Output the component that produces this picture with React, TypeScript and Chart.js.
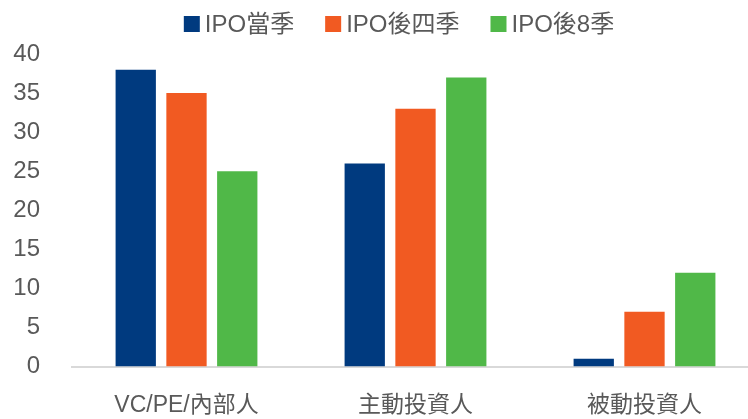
import React, { useEffect, useRef } from "react";
import { Chart, registerables } from "chart.js";

Chart.register(...registerables);

const categories = ["VC/PE/內部人", "主動投資人", "被動投資人"];
const seriesNames = ["IPO當季", "IPO後四季", "IPO後8季"];
const ipoQuarter = [38, 26, 1];
const after4Quarters = [35, 33, 7];
const after8Quarters = [25, 37, 12];
const seriesColors = ["#003A7F", "#F15A22", "#50B848"];
const yTicks = [0, 5, 10, 15, 20, 25, 30, 35, 40];

const FONT = 'Arial, "Liberation Sans", "Noto Sans CJK TC", sans-serif';
const TEXT = "#595959";

const legendPlugin = {
  id: "customLegend",
  afterDraw(chart: any) {
    const opts = chart.options.plugins.customLegend;
    const ctx = chart.ctx;
    ctx.save();
    ctx.font = `${opts.fontSize}px ${FONT}`;
    const items = chart.data.datasets.map((d: any) => ({
      text: d.label,
      color: d.backgroundColor,
      w: ctx.measureText(d.label).width,
    }));
    const total =
      items.reduce((s: number, it: any) => s + opts.box + opts.gap + it.w, 0) +
      opts.itemGap * (items.length - 1);
    let x = opts.centerX - total / 2;
    ctx.textBaseline = "alphabetic";
    ctx.textAlign = "left";
    items.forEach((it: any) => {
      ctx.fillStyle = it.color;
      ctx.fillRect(x, opts.baseline - opts.box, opts.box, opts.box);
      x += opts.box + opts.gap;
      ctx.fillStyle = TEXT;
      ctx.fillText(it.text, x, opts.baseline);
      x += it.w + opts.itemGap;
    });
    ctx.restore();
  },
};

export default function App() {
  const ref = useRef<HTMLCanvasElement>(null);
  useEffect(() => {
    if (!ref.current) return;
    const data = [ipoQuarter, after4Quarters, after8Quarters];
    const chart = new Chart(ref.current, {
      type: "bar",
      data: {
        labels: categories,
        datasets: seriesNames.map((name, i) => ({
          label: name,
          data: data[i],
          backgroundColor: seriesColors[i],
          borderWidth: 0,
          categoryPercentage: 0.665,
          barPercentage: 0.794,
        })),
      },
      options: {
        animation: false,
        responsive: false,
        maintainAspectRatio: false,
        layout: { padding: { top: 54, left: 0, right: 0, bottom: 0 } },
        plugins: {
          legend: { display: false },
          tooltip: { enabled: false },
          customLegend: {
            fontSize: 24,
            box: 16,
            gap: 5,
            itemGap: 31,
            centerX: 399,
            baseline: 32,
          },
        } as any,
        scales: {
          x: {
            type: "category",
            grid: { display: false },
            border: { display: true, color: "#D9D9D9", width: 2 },
            ticks: {
              color: TEXT,
              font: { size: 23, family: FONT },
              padding: 17,
              maxRotation: 0,
              autoSkip: false,
            },
            afterFit: (s: any) => {
              s.height = 52.5;
            },
          },
          y: {
            min: 0,
            max: 40,
            grid: { display: false },
            border: { display: false },
            afterBuildTicks: (s: any) => {
              s.ticks = yTicks.map((v) => ({ value: v }));
            },
            ticks: {
              color: TEXT,
              font: { size: 24, family: FONT },
              padding: 24,
            },
            afterFit: (s: any) => {
              s.width = 72;
            },
          },
        },
      },
      plugins: [legendPlugin],
    });
    return () => chart.destroy();
  }, []);

  return (
    <div
      style={{
        position: "fixed",
        left: 0,
        top: 0,
        width: 748,
        height: 419,
        overflow: "hidden",
        background: "#fff",
      }}
    >
      <canvas
        ref={ref}
        width={759}
        height={419}
        style={{ display: "block", width: 759, height: 419 }}
      />
    </div>
  );
}
